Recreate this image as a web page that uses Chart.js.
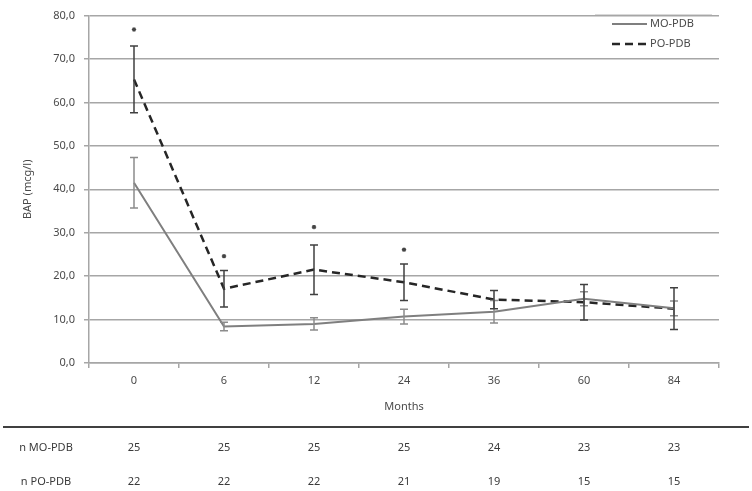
<!DOCTYPE html>
<html>
<head>
<meta charset="utf-8">
<script src="https://cdn.jsdelivr.net/npm/chart.js@4.4.1/dist/chart.umd.min.js"></script>
<style>
    html, body { margin: 0; padding: 0; background: #fff; }
    #wrap { width: 752px; height: 491px; position: relative; }
</style>
</head>
<body>
<div id="wrap"><canvas id="bapChart"></canvas></div>
<script>
// Data
const months = ['0', '6', '12', '24', '36', '60', '84'];
const moMean = [41.5, 8.4, 9.0, 10.7, 11.8, 14.8, 12.6];
const moErr = [5.8, 1.0, 1.4, 1.7, 2.6, 1.6, 1.7];
const poMean = [65.3, 17.1, 21.5, 18.6, 14.6, 14.0, 12.5];
const poErr = [7.7, 4.2, 5.7, 4.2, 2.1, 4.1, 4.8];
const sigMarks = [76.8, 24.6, 31.3, 26.1, null, null, null];
const nMO = [25, 25, 25, 25, 24, 23, 23];
const nPO = [22, 22, 22, 21, 19, 15, 15];

const fontFamily = '"Noto Sans", "DejaVu Sans", sans-serif';
const gridColor = '#a6a6a6';
const textColor = '#4a4a4a';

// Error bars, legend and the n-table under the axis
const extrasPlugin = {
    id: 'extras',
    afterDatasetsDraw(chart) {
        const ctx = chart.ctx;
        const x = chart.scales.x;
        const y = chart.scales.y;
        const drawBars = (means, errs, color) => {
            ctx.save();
            ctx.strokeStyle = color;
            ctx.lineWidth = 1.5;
            means.forEach((m, i) => {
                const px = x.getPixelForValue(i);
                const top = y.getPixelForValue(m + errs[i]);
                const bot = y.getPixelForValue(m - errs[i]);
                ctx.beginPath();
                ctx.moveTo(px, top); ctx.lineTo(px, bot);
                ctx.moveTo(px - 4, top); ctx.lineTo(px + 4, top);
                ctx.moveTo(px - 4, bot); ctx.lineTo(px + 4, bot);
                ctx.stroke();
            });
            ctx.restore();
        };
        drawBars(moMean, moErr, '#8c8c8c');
        drawBars(poMean, poErr, '#404040');
    },
    afterDraw(chart) {
        const ctx = chart.ctx;
        const x = chart.scales.x;
        ctx.save();

        // legend
        ctx.strokeStyle = '#d9d9d9';
        ctx.lineWidth = 1;
        ctx.beginPath();
        ctx.moveTo(595, 14.5); ctx.lineTo(712, 14.5);
        ctx.stroke();
        ctx.lineWidth = 2;
        ctx.strokeStyle = '#7f7f7f';
        ctx.beginPath();
        ctx.moveTo(612, 24); ctx.lineTo(647, 24);
        ctx.stroke();
        ctx.strokeStyle = '#262626';
        ctx.lineWidth = 2.5;
        ctx.setLineDash([8, 5]);
        ctx.beginPath();
        ctx.moveTo(612, 44); ctx.lineTo(647, 44);
        ctx.stroke();
        ctx.setLineDash([]);
        ctx.fillStyle = textColor;
        ctx.font = '11px ' + fontFamily;
        ctx.textBaseline = 'middle';
        ctx.textAlign = 'left';
        ctx.fillText('MO-PDB', 650, 24);
        ctx.fillText('PO-PDB', 650, 44);

        // x title
        ctx.textAlign = 'center';
        ctx.fillText('Months', (x.left + x.right) / 2, 407);

        // table
        ctx.strokeStyle = '#404040';
        ctx.lineWidth = 2;
        ctx.beginPath();
        ctx.moveTo(3, 427); ctx.lineTo(749, 427);
        ctx.stroke();
        ctx.fillStyle = '#3a3a3a';
        ctx.fillText('n MO-PDB', 46, 448);
        ctx.fillText('n PO-PDB', 46, 482);
        nMO.forEach((v, i) => ctx.fillText(String(v), x.getPixelForValue(i), 448));
        nPO.forEach((v, i) => ctx.fillText(String(v), x.getPixelForValue(i), 482));
        ctx.restore();
    }
};

new Chart(document.getElementById('bapChart'), {
    type: 'line',
    data: {
        labels: months,
        datasets: [{
            label: 'MO-PDB',
            data: moMean,
            borderColor: '#7f7f7f',
            borderWidth: 2,
            pointRadius: 0,
            tension: 0
        }, {
            label: 'PO-PDB',
            data: poMean,
            borderColor: '#262626',
            borderWidth: 2.5,
            borderDash: [8, 5],
            pointRadius: 0,
            tension: 0
        }, {
            label: 'sig',
            data: sigMarks,
            showLine: false,
            pointStyle: 'star',
            pointRadius: 2.2,
            borderColor: '#444',
            borderWidth: 1.2
        }]
    },
    options: {
        responsive: true,
        maintainAspectRatio: false,
        animation: false,
        layout: { padding: { top: 8, right: 33, left: 0, bottom: 0 } },
        plugins: {
            legend: { display: false },
            tooltip: { enabled: false }
        },
        scales: {
            x: {
                offset: true,
                grid: { offset: true, drawOnChartArea: false, tickLength: 5, color: gridColor, lineWidth: 1.5 },
                border: { color: gridColor, width: 1.5 },
                ticks: { color: textColor, padding: 6, font: { family: fontFamily, size: 11 } },
                afterFit(scale) { scale.height = 128; }
            },
            y: {
                min: 0,
                max: 80,
                ticks: {
                    stepSize: 10,
                    color: textColor,
                    padding: 9,
                    font: { family: fontFamily, size: 11 },
                    callback: v => v.toFixed(1).replace('.', ',')
                },
                grid: { color: gridColor, lineWidth: 1.5, tickLength: 5 },
                border: { color: gridColor, width: 1.5 },
                title: {
                    display: true,
                    text: 'BAP (mcg/l)',
                    color: textColor,
                    font: { family: fontFamily, size: 11 },
                    padding: { top: 21, bottom: 0 }
                },
                afterFit(scale) { scale.width = 89; }
            }
        }
    },
    plugins: [extrasPlugin]
});
</script>
</body>
</html>
